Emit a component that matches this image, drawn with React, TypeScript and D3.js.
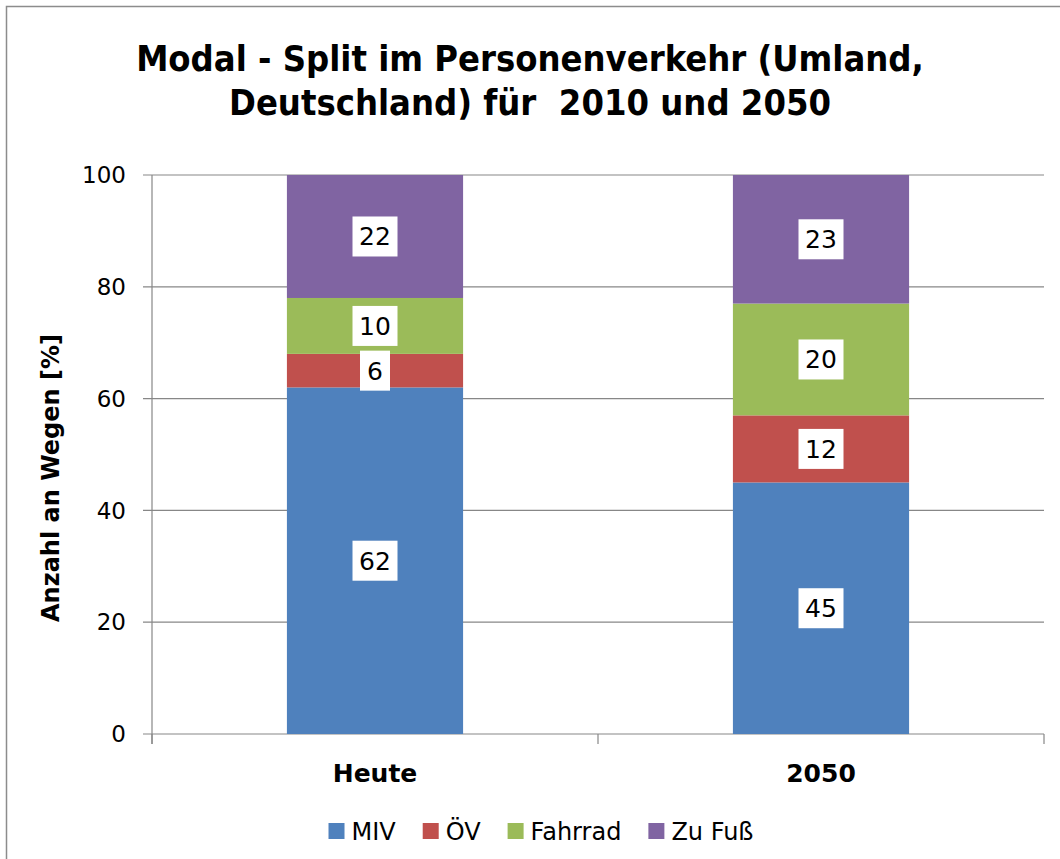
import * as React from "react"
import * as d3 from "d3"

const categories = ["Heute", "2050"]
const seriesNames = ["MIV", "ÖV", "Fahrrad", "Zu Fuß"]
const seriesColors = ["#4F81BD", "#C0504D", "#9BBB59", "#8064A2"]
const values: number[][] = [
  [62, 45], // MIV
  [6, 12], // ÖV
  [10, 20], // Fahrrad
  [22, 23], // Zu Fuß
]
const yTicks = [0, 20, 40, 60, 80, 100]

const titleLines = ["Modal - Split im Personenverkehr (Umland,", "Deutschland) für  2010 und 2050"]
const yLabel = "Anzahl an Wegen [%]"

const font = "Tahoma, 'DejaVu Sans', Verdana, sans-serif"

export default function App() {
  const width = 1060
  const height = 859
  const margin = { top: 175, right: 16, bottom: 125, left: 152 }
  const innerWidth = width - margin.left - margin.right
  const innerHeight = height - margin.top - margin.bottom

  const x = d3.scaleBand().domain(categories).range([0, innerWidth]).paddingInner(0.605).paddingOuter(0.3025)
  const outer = d3.scaleBand().domain(categories).range([0, innerWidth])
  const y = d3.scaleLinear().domain([0, 100]).range([innerHeight, 0])

  const rows = categories.map((c, i) => {
    const r: Record<string, number | string> = { cat: c }
    seriesNames.forEach((s, j) => (r[s] = values[j][i]))
    return r
  })
  const stacked = d3.stack<Record<string, number | string>>().keys(seriesNames)(rows as any)

  const gridColor = "#878787"

  // legend: measure the label widths once rendered
  const legendFont = 24
  const textRefs = React.useRef<(SVGTextElement | null)[]>([])
  const [textW, setTextW] = React.useState<number[]>(seriesNames.map((s) => s.length * 14))
  React.useLayoutEffect(() => {
    const w = textRefs.current.map((t) => (t ? t.getComputedTextLength() : 0))
    if (w.some((v, i) => Math.abs(v - textW[i]) > 0.5)) setTextW(w)
  }, [])
  const sq = 16
  const sqGap = 7
  const itemGap = 27
  let lx = 0
  const legend = seriesNames.map((s, i) => {
    const item = { name: s, color: seriesColors[i], x: lx }
    lx += sq + sqGap + textW[i] + itemGap
    return item
  })
  const legendWidth = lx - itemGap
  const legendStart = 541 - legendWidth / 2

  return (
    <svg
      width={width}
      height={height}
      style={{ position: "absolute", left: 0, top: 0, background: "#fff" }}
      fontFamily={font}
    >
      <rect x={6.5} y={6.5} width={1100} height={900} fill="#fff" stroke="#8c8c8c" strokeWidth={1.5} />

      {titleLines.map((t, i) => (
        <text
          key={i}
          x={530}
          y={71 + i * 44}
          textAnchor="middle"
          fontSize={36}
          fontWeight="bold"
          fill="#000"
          style={{ fontStretch: "condensed", whiteSpace: "pre" }}
        >
          {t}
        </text>
      ))}

      <g transform={`translate(${margin.left},${margin.top})`}>
        {/* gridlines and y ticks */}
        {yTicks.map((t) => (
          <g key={t} transform={`translate(0,${y(t)})`}>
            <line x1={-9} x2={innerWidth} stroke={gridColor} strokeWidth={1.2} />
            <text x={-26} dy="0.36em" textAnchor="end" fontSize={23} fill="#000">
              {t}
            </text>
          </g>
        ))}
        {/* y axis */}
        <line x1={0} x2={0} y1={0} y2={innerHeight + 10} stroke={gridColor} strokeWidth={1.2} />
        {/* x category ticks */}
        {[0, ...categories.map((c) => (outer(c) || 0) + outer.bandwidth())].map((p, i) => (
          <line key={i} x1={p} x2={p} y1={innerHeight} y2={innerHeight + 10} stroke={gridColor} strokeWidth={1.2} />
        ))}

        {/* bars */}
        {stacked.map((layer, j) =>
          layer.map((d, i) => (
            <rect
              key={`${j}-${i}`}
              x={x(categories[i])}
              y={y(d[1])}
              width={x.bandwidth()}
              height={y(d[0]) - y(d[1])}
              fill={seriesColors[j]}
            />
          ))
        )}

        {/* data labels */}
        {stacked.map((layer, j) =>
          layer.map((d, i) => {
            const v = values[j][i]
            const label = String(v)
            const cx = (x(categories[i]) || 0) + x.bandwidth() / 2
            const cy = y((d[0] + d[1]) / 2)
            const bw = label.length * 15 + 15
            const bh = 40
            return (
              <g key={`l-${j}-${i}`} transform={`translate(${cx},${cy})`}>
                <rect x={-bw / 2} y={-bh / 2} width={bw} height={bh} fill="#fff" />
                <text textAnchor="middle" dy="0.36em" fontSize={25} fill="#000">
                  {label}
                </text>
              </g>
            )
          })
        )}

        {/* category labels */}
        {categories.map((c) => (
          <text
            key={c}
            x={(x(c) || 0) + x.bandwidth() / 2}
            y={innerHeight + 48}
            textAnchor="middle"
            fontSize={25}
            fontWeight="bold"
            fill="#000"
          >
            {c}
          </text>
        ))}
      </g>

      {/* y axis title */}
      <text
        transform={`translate(59,${478}) rotate(-90)`}
        textAnchor="middle"
        fontSize={24}
        fontWeight="bold"
        fill="#000"
      >
        {yLabel}
      </text>

      {/* legend */}
      <g transform={`translate(${legendStart},831)`}>
        {legend.map((l, i) => (
          <g key={l.name} transform={`translate(${l.x},0)`}>
            <rect x={0} y={-8} width={sq} height={sq} fill={l.color} />
            <text
              ref={(el) => {
                textRefs.current[i] = el
              }}
              x={sq + sqGap}
              dy="0.36em"
              fontSize={legendFont}
              fill="#000"
            >
              {l.name}
            </text>
          </g>
        ))}
      </g>
    </svg>
  )
}
